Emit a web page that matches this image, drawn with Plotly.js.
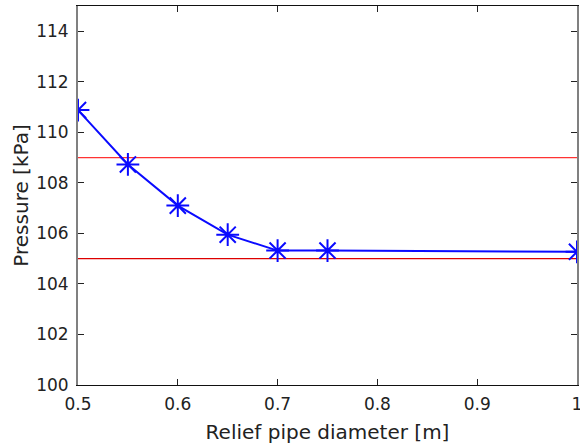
<!DOCTYPE html>
<html><head><meta charset="utf-8">
<script src="https://cdn.plot.ly/plotly-3.0.1.min.js"></script>
<style>body{margin:0;padding:0;background:#fff}#chart{width:580px;height:444px}</style>
</head><body><div id="chart"></div>
<script>
const diameter = [0.5, 0.55, 0.6, 0.65, 0.7, 0.75, 1.0];
const pressure = [110.88, 108.73, 107.1, 105.95, 105.32, 105.32, 105.27];
const upperLimitX = [0.5, 1.0];
const upperLimitY = [109, 109];
const lowerLimitX = [0.5, 1.0];
const lowerLimitY = [105, 105];
const xTickVals = [0.5, 0.6, 0.7, 0.8, 0.9, 1.0];
const xTickText = ["0.5", "0.6", "0.7", "0.8", "0.9", "1"];
const yTickVals = [100, 102, 104, 106, 108, 110, 112, 114];

const traces = [
  {x: upperLimitX, y: upperLimitY, mode: 'lines', line: {color: '#ff3333', width: 1.3}, hoverinfo: 'skip'},
  {x: lowerLimitX, y: lowerLimitY, mode: 'lines', line: {color: '#dd0000', width: 1.3}, hoverinfo: 'skip'},
  {x: diameter, y: pressure, mode: 'lines+markers',
   line: {color: '#0a0aff', width: 2},
   marker: {symbol: 'asterisk-open', size: 19, color: '#0a0aff', line: {color: '#0a0aff', width: 2}}}
];
const FF = '"DejaVu Sans", Verdana, sans-serif';
const layout = {
  width: 580, height: 444,
  margin: {l: 78, r: 3, t: 6, b: 59},
  showlegend: false,
  paper_bgcolor: '#fff', plot_bgcolor: '#fff',
  font: {family: FF, color: '#222'},
  xaxis: {
    range: [0.5, 1.0], tickvals: xTickVals, ticktext: xTickText,
    ticks: 'inside', ticklen: 6, tickcolor: '#222', mirror: 'ticks',
    showline: true, linecolor: '#111', linewidth: 1, showgrid: false, zeroline: false,
    ticklabeloverflow: 'allow', ticklabelstandoff: 4,
    tickfont: {family: FF, size: 17, color: '#222'},
    title: {text: 'Relief pipe diameter [m]', font: {family: FF, size: 20, color: '#222'}, standoff: 11}
  },
  yaxis: {
    range: [100, 115], tickvals: yTickVals,
    ticks: 'inside', ticklen: 6, tickcolor: '#222', mirror: 'ticks',
    showline: true, linecolor: '#808080', linewidth: 2, showgrid: false, zeroline: false,
    ticklabelstandoff: 4,
    tickfont: {family: FF, size: 17, color: '#222'},
    title: {text: 'Pressure [kPa]', font: {family: FF, size: 20, color: '#222'}, standoff: 2}
  }
};
Plotly.newPlot('chart', traces, layout, {displayModeBar: false, staticPlot: true});
</script></body></html>
